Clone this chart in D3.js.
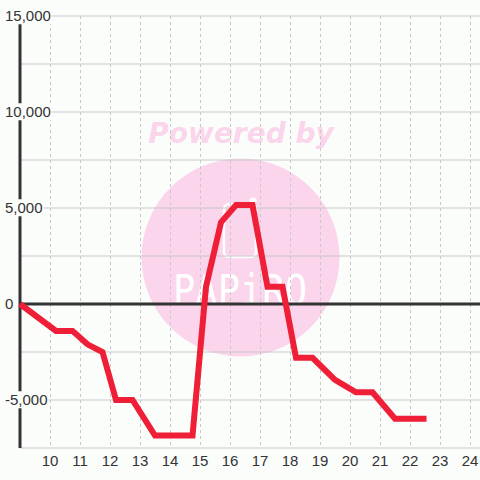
<!DOCTYPE html>
<html>
<head>
<meta charset="utf-8">
<script src="https://cdn.jsdelivr.net/npm/d3@7"></script>
<style>
  html, body { margin: 0; padding: 0; background: #fbfdfb; }
  svg { display: block; }
</style>
</head>
<body>
<svg id="chart" width="480" height="480"></svg>
<script>
// ---- data ----
const xValues = [9, 10.2, 10.75, 11.25, 11.75, 12.2, 12.75, 13.5, 14.75, 15.2, 15.7, 16.2, 16.75, 17.25, 17.75, 18.2, 18.75, 19.5, 20.2, 20.75, 21.5, 22.55];
const yValues = [0, -1400, -1400, -2100, -2500, -5000, -5000, -6850, -6850, 900, 4250, 5150, 5150, 900, 900, -2800, -2800, -3950, -4600, -4600, -5980, -5980];
const xTicks = [10, 11, 12, 13, 14, 15, 16, 17, 18, 19, 20, 21, 22, 23, 24];
const yLabelTicks = [15000, 10000, 5000, 0, -5000];
const yGridTicks = [15000, 12500, 10000, 7500, 5000, 2500, 0, -2500, -5000, -7500];
const xDomain = [9, 24.333];
const yDomain = [-7500, 15000];

// ---- layout ----
const W = 480, H = 480;
const mLeft = 20, mRight = 480, mTop = 16, mBottom = 448;
const bg = "#fbfdfb";
const font = "'Liberation Sans', Arial, sans-serif";

const svg = d3.select("#chart");
svg.append("rect").attr("width", W).attr("height", H).attr("fill", bg);

const x = d3.scaleLinear().domain(xDomain).range([mLeft, mRight]);
const y = d3.scaleLinear().domain(yDomain).range([mBottom, mTop]);

const fmt = d3.formatLocale({decimal: ".", thousands: ",", grouping: [3], currency: ["$", ""], minus: "-"}).format(",");

// ---- watermark (decoration) ----
const pink = "#fbd5eb";
const wm = svg.append("g");
wm.append("circle").attr("cx", 240.5).attr("cy", 257.5).attr("r", 99).attr("fill", pink);
wm.append("text").attr("x", 241).attr("y", 143).attr("text-anchor", "middle")
  .attr("font-family", "'DejaVu Sans', sans-serif").attr("font-weight", "bold").attr("font-style", "italic")
  .attr("font-size", 28).attr("fill", pink).text("Powered by");
wm.append("rect").attr("x", 224).attr("y", 204).attr("width", 32).attr("height", 53).attr("rx", 5)
  .attr("fill", "none").attr("stroke", "#ffffff").attr("stroke-width", 2.5);
wm.append("circle").attr("cx", 253).attr("cy", 201).attr("r", 3.5).attr("fill", "#ffffff");
wm.append("text").attr("x", 173).attr("y", 305).attr("textLength", 134).attr("lengthAdjust", "spacingAndGlyphs")
  .attr("font-family", "'DejaVu Sans Mono', monospace").attr("font-size", 42).attr("fill", "#ffffff")
  .text("PAPiRO");

// ---- grid ----
const grid = svg.append("g");
grid.selectAll("line.vg").data(xTicks).join("line").attr("class", "vg")
  .attr("x1", d => x(d)).attr("x2", d => x(d)).attr("y1", mTop).attr("y2", mBottom)
  .attr("stroke", "#c8c8c8").attr("stroke-width", 1).attr("stroke-dasharray", "3,3")
  .attr("shape-rendering", "crispEdges");
grid.selectAll("line.hg").data(yGridTicks).join("line").attr("class", "hg")
  .attr("x1", mLeft).attr("x2", mRight).attr("y1", d => y(d)).attr("y2", d => y(d))
  .attr("stroke", "#c8c8c8").attr("stroke-width", 1.2);

// ---- axes ----
svg.append("line").attr("x1", x(xDomain[0])).attr("x2", x(xDomain[0])).attr("y1", mTop).attr("y2", mBottom)
  .attr("stroke", "#333333").attr("stroke-width", 3);
svg.append("line").attr("x1", mLeft).attr("x2", mRight).attr("y1", y(0)).attr("y2", y(0))
  .attr("stroke", "#333333").attr("stroke-width", 3);

// y labels with background
const yl = svg.append("g");
yLabelTicks.forEach(v => {
  const g = yl.append("g");
  const t = g.append("text").attr("x", 5).attr("y", y(v)).attr("dy", "0.35em")
    .attr("font-family", font).attr("font-size", 15).attr("fill", "#333333").text(fmt(v));
  const b = t.node().getBBox();
  g.insert("rect", "text").attr("x", b.x - 1).attr("y", b.y).attr("width", b.width + 2).attr("height", b.height)
    .attr("fill", bg);
});

// x labels
svg.append("g").selectAll("text").data(xTicks).join("text")
  .attr("x", d => x(d)).attr("y", 466).attr("text-anchor", "middle")
  .attr("font-family", font).attr("font-size", 15).attr("fill", "#333333").text(d => d);

// ---- series ----
const pts = xValues.map((v, i) => [v, yValues[i]]);
svg.append("path").datum(pts)
  .attr("d", d3.line().x(d => x(d[0])).y(d => y(d[1])))
  .attr("fill", "none").attr("stroke", "#ee1f36").attr("stroke-width", 6)
  .attr("stroke-linejoin", "miter").attr("stroke-linecap", "butt");
</script>
</body>
</html>
